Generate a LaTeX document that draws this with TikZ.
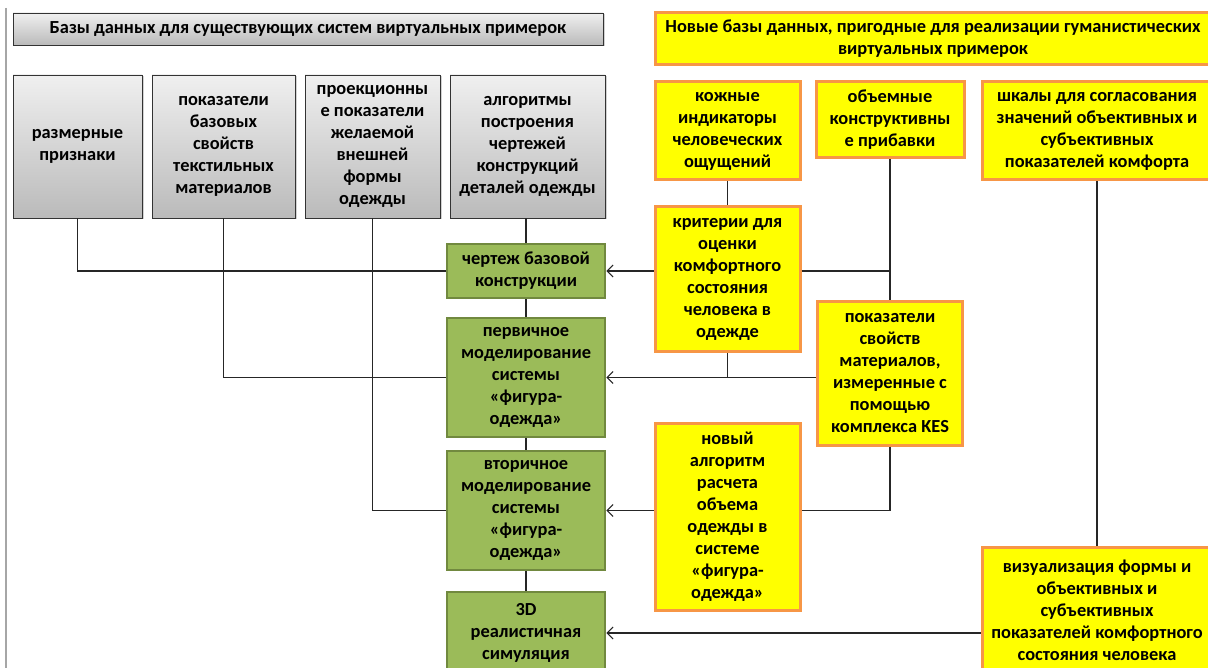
\documentclass[tikz,border=0pt]{standalone}
\usepackage{fontspec}
\setmainfont{Carlito}
\usepackage{xcolor}
\usepackage{tikz}
\usetikzlibrary{arrows.meta,shadows}

\definecolor{ylwfill}{HTML}{FFFF00}
\definecolor{ylwedge}{HTML}{F79646}
\definecolor{grnfill}{HTML}{9BBB59}
\definecolor{grnedge}{HTML}{71893F}

\begin{document}
\begin{tikzpicture}[x=1pt,y=-1pt,
	font=\fontsize{18.4}{22}\selectfont\bfseries,
	box/.style={rectangle,align=center,inner sep=2pt},
	greybox/.style={box,draw=black!80,line width=0.9pt,top color=black!6,bottom color=black!27,
		drop shadow={shadow xshift=1.5pt,shadow yshift=-1.5pt,opacity=0.35}},
	ylwbox/.style={box,draw=ylwedge,line width=3pt,fill=ylwfill},
	grnbox/.style={box,draw=grnedge,line width=2.5pt,fill=grnfill},
	link/.style={black!85,line width=1.1pt},
	>={Straight Barb[length=6pt,width=12pt]}]
	\useasboundingbox (0,0) rectangle (1208,668);
	\fill[white] (0,0) rectangle (1208,668);
	\clip (0,0) rectangle (1208,668);
	\draw[black!35,line width=1.2pt] (6,8) -- (6,668);
	%
	% existing databases
	\node[greybox,minimum width=590,minimum height=32] (oldbase) at (308,29) {Базы данных для существующих систем виртуальных примерок};
	\node[greybox,minimum width=129,minimum height=143] (razm) at (77.5,146.5) {размерные\\признаки};
	\node[greybox,minimum width=143,minimum height=143] (bazsv) at (223.5,146.5) {показатели\\базовых\\свойств\\текстильных\\материалов};
	\node[greybox,minimum width=135,minimum height=143] (proek) at (372.5,146.5) {проекционны\\е показатели\\желаемой\\внешней\\формы\\одежды};
	\node[greybox,minimum width=155,minimum height=143] (algo) at (527.5,146.5) {алгоритмы\\построения\\чертежей\\конструкций\\деталей одежды};
	%
	% new databases
	\node[ylwbox,minimum width=556,minimum height=52] (newbase) at (933,39) {Новые базы данных, пригодные для реализации гуманистических\\виртуальных примерок};
	\node[ylwbox,minimum width=145,minimum height=98] (kozh) at (727.5,131) {кожные\\индикаторы\\человеческих\\ощущений};
	\node[ylwbox,minimum width=148,minimum height=76] (obem) at (890,120) {объемные\\конструктивны\\е прибавки};
	\node[ylwbox,minimum width=230,minimum height=98] (shkal) at (1097,131) {шкалы для согласования\\значений объективных и\\субъективных\\показателей комфорта};
	\node[ylwbox,minimum width=145,minimum height=145] (krit) at (727.5,279.5) {критерии для\\оценки\\комфортного\\состояния\\человека в\\одежде};
	\node[ylwbox,minimum width=145,minimum height=143] (kes) at (890,373.5) {показатели\\свойств\\материалов,\\измеренные с\\помощью\\комплекса KES};
	\node[ylwbox,minimum width=145,minimum height=187] (novalg) at (727.5,516.5) {новый\\алгоритм\\расчета\\объема\\одежды в\\системе\\«фигура-\\одежда»};
	\node[ylwbox,minimum width=230,minimum height=126] (vizual) at (1097,610) {визуализация формы и\\объективных и\\субъективных\\показателей комфортного\\состояния человека};
	%
	% stages
	\node[grnbox,minimum width=158,minimum height=54] (chert) at (526,271) {чертеж базовой\\конструкции};
	\node[grnbox,minimum width=158,minimum height=119] (perv) at (526,377.5) {первичное\\моделирование\\системы\\«фигура-\\одежда»};
	\node[grnbox,minimum width=158,minimum height=119] (vtor) at (526,510.5) {вторичное\\моделирование\\системы\\«фигура-\\одежда»};
	\node[grnbox,minimum width=158,minimum height=82] (sim) at (526,633) {3D\\реалистичная\\симуляция};
	%
	\path[link]
		(chert.north |- algo.south) edge (chert.north)
		(chert.south) edge (perv.north)
		(perv.south) edge (vtor.north)
		(vtor.south) edge (sim.north)
		(kozh.south) edge (krit.north)
		(obem.south) edge (obem.south |- kes.north)
		(shkal.south) edge (vizual.north)
		(krit.east |- chert.east) edge (obem.south |- chert.east)
		(krit.south) edge (krit.south |- perv.east);
	\draw[link] (razm.south) |- (chert.west);
	\draw[link] (bazsv.south) |- (perv.west);
	\draw[link] (proek.south) |- (vtor.west);
	\draw[link] (kes.south) |- (novalg.east |- vtor.east);
	%
	\path[link,->]
		(krit.west |- chert.east) edge (chert.east)
		(kes.west |- perv.east) edge (perv.east)
		(novalg.west |- vtor.east) edge (vtor.east)
		(vizual.west |- sim.east) edge (sim.east);
\end{tikzpicture}
\end{document}
